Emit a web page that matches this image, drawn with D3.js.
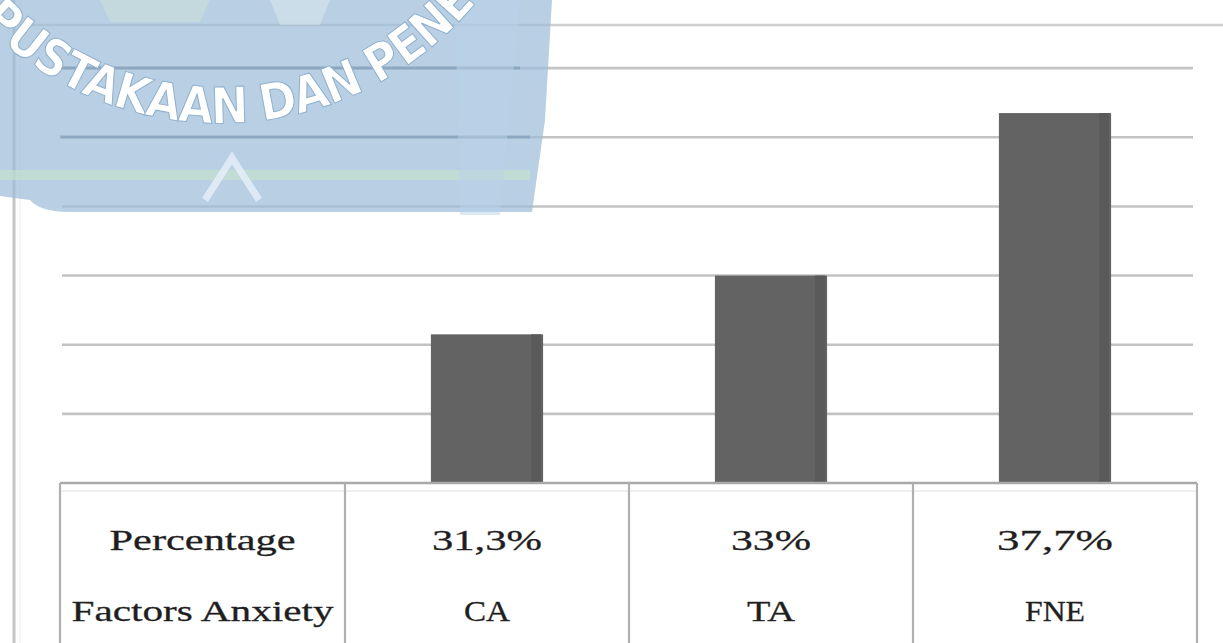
<!DOCTYPE html>
<html><head><meta charset="utf-8">
<script src="https://cdn.jsdelivr.net/npm/d3@7"></script>
<style>html,body{margin:0;padding:0;background:#fff;}svg{display:block;}</style>
</head><body>
<svg id="c" width="1223" height="643"></svg>
<script>
const categories = ["CA", "TA", "FNE"];
const values = [31.3, 33, 37.7];
const valueLabels = ["31,3%", "33%", "37,7%"];
const rowHeaders = ["Percentage", "Factors Anxiety"];
const gridTicks = [29, 31, 33, 35, 37, 39];

const svg = d3.select("#c");
const W = 1223, H = 643;
const axisY = 483;
const y = d3.scaleLinear().domain([27, 41]).range([axisY, -1]);
const x = d3.scaleBand().domain(categories).range([345, 1197]).padding(0);
const headerLeft = 60, headerRight = 345;
const barW = x.bandwidth() * 0.395;

// outer frame line (left)
svg.append("line").attr("x1", 14).attr("x2", 14).attr("y1", 0).attr("y2", H)
  .attr("stroke", "#c4c4c4").attr("stroke-width", 3);
svg.append("line").attr("x1", 20).attr("x2", 20).attr("y1", 0).attr("y2", H)
  .attr("stroke", "#ececec").attr("stroke-width", 1);

// top border line
svg.append("line").attr("x1", 20).attr("x2", W).attr("y1", 25).attr("y2", 25)
  .attr("stroke", "#cfcfcf").attr("stroke-width", 2.5);

// gridlines
svg.append("g").selectAll("line").data(gridTicks).join("line")
  .attr("x1", 62).attr("x2", 1193)
  .attr("y1", d => y(d)).attr("y2", d => y(d))
  .attr("stroke", "#c3c3c3").attr("stroke-width", 2.6);

// bars
svg.append("g").selectAll("rect").data(values).join("rect")
  .attr("x", (d, i) => x(categories[i]) + (x.bandwidth() - barW) / 2)
  .attr("width", barW)
  .attr("y", d => y(d))
  .attr("height", d => axisY - y(d))
  .attr("fill", "#636363");
svg.append("g").selectAll("rect").data(values).join("rect")
  .attr("x", (d, i) => x(categories[i]) + (x.bandwidth() + barW) / 2 - 12)
  .attr("width", 10)
  .attr("y", d => y(d))
  .attr("height", d => axisY - y(d))
  .attr("fill", "#5a5a5a");

// table
const tbl = svg.append("g");
tbl.append("line").attr("x1", headerLeft).attr("x2", 1197).attr("y1", axisY).attr("y2", axisY)
  .attr("stroke", "#a9a9a9").attr("stroke-width", 2.5);
tbl.append("line").attr("x1", headerLeft).attr("x2", 1197).attr("y1", axisY + 8).attr("y2", axisY + 8)
  .attr("stroke", "#efefef").attr("stroke-width", 2);
const vlines = [headerLeft, headerRight].concat(categories.map(c => x(c) + x.bandwidth()));
tbl.selectAll("line.v").data(vlines).join("line").attr("class", "v")
  .attr("x1", d => d).attr("x2", d => d).attr("y1", axisY).attr("y2", H)
  .attr("stroke", "#b0b0b0").attr("stroke-width", 2.2);

const font = "'Liberation Serif', 'DejaVu Serif', serif";
const hx = (headerLeft + headerRight) / 2;
const headerWidths = [186, 262];
const rowY = [550, 621];
function styleText(s) {
  return s.attr("font-family", font).attr("font-size", 29).attr("fill", "#1e1e1e")
    .attr("stroke", "#2a2a2a").attr("stroke-width", 0.3)
    .attr("lengthAdjust", "spacingAndGlyphs").attr("text-anchor", "middle");
}
rowHeaders.forEach((t, i) => {
  styleText(tbl.append("text").attr("x", hx).attr("y", rowY[i]))
    .attr("textLength", headerWidths[i]).text(t);
});
const valW = [110, 80, 116];
styleText(tbl.selectAll("text.val").data(valueLabels).join("text").attr("class", "val")
  .attr("x", (d, i) => x(categories[i]) + x.bandwidth() / 2).attr("y", rowY[0]))
  .attr("textLength", (d, i) => valW[i]).text(d => d);
const catW = [46, 48, 60];
styleText(tbl.selectAll("text.cat").data(categories).join("text").attr("class", "cat")
  .attr("x", d => x(d) + x.bandwidth() / 2).attr("y", rowY[1]))
  .attr("textLength", (d, i) => catW[i]).text(d => d);

// watermark (library stamp) in the top-left corner
const wm = svg.append("g");
wm.append("path")
  .attr("d", "M0,0 L552,0 L545,120 L532,212 L70,212 Q40,212 30,200 L0,196 Z")
  .attr("fill", "#9dbcd9").attr("opacity", 0.72);
wm.append("path").attr("d", "M100,0 L210,0 L200,22 L110,22 Z").attr("fill", "#d8ecd0").attr("opacity", 0.35);
wm.append("path").attr("d", "M270,0 L330,0 L320,25 L280,25 Z").attr("fill", "#eef6f0").attr("opacity", 0.35);
wm.append("rect").attr("x", 0).attr("y", 170).attr("width", 530).attr("height", 10)
  .attr("fill", "#c8e6c8").attr("opacity", 0.55);
wm.append("line").attr("x1", 60).attr("x2", 530).attr("y1", 137).attr("y2", 137)
  .attr("stroke", "#7b99b3").attr("stroke-width", 3).attr("opacity", 0.6);
wm.append("line").attr("x1", 60).attr("x2", 520).attr("y1", 68).attr("y2", 68)
  .attr("stroke", "#7b99b3").attr("stroke-width", 3).attr("opacity", 0.6);
wm.append("path").attr("d", "M455,0 L520,0 L500,215 L460,215 Z")
  .attr("fill", "#b9d3e8").attr("opacity", 0.5);
wm.append("path").attr("d", "M205,200 L232,158 L259,200")
  .attr("fill", "none").attr("stroke", "#e6f0fa").attr("stroke-width", 7).attr("opacity", 0.8);
wm.append("path").attr("id", "arc")
  .attr("d", "M-81,-69 A332,332 0 0,0 532,-95")
  .attr("fill", "none");
wm.append("text").attr("font-family", "'DejaVu Sans Condensed', 'DejaVu Sans', sans-serif")
  .attr("font-weight", "bold").attr("font-stretch", "condensed")
  .attr("font-size", 50).attr("fill", "#ffffff").attr("stroke", "#8fb0cc").attr("stroke-width", 1)
  .attr("letter-spacing", -1)
  .append("textPath").attr("href", "#arc").attr("startOffset", 108)
  .text("PUSTAKAAN DAN PENERBITAN");
</script>
</body></html>
